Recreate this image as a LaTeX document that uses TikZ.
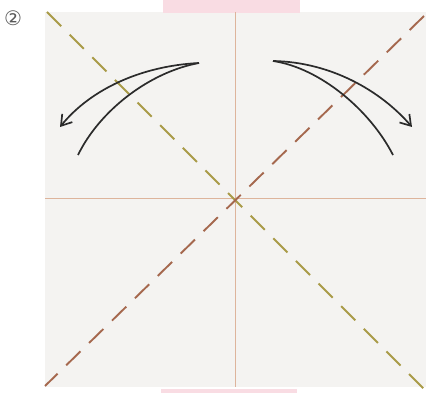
\documentclass[tikz,border=0pt]{standalone}
\usepackage{fontspec}
\newfontfamily\symfont{DejaVu Sans}
\usetikzlibrary{arrows.meta}
\definecolor{paper}{HTML}{F4F3F1}
\definecolor{pinkband}{HTML}{F9DCE3}
\definecolor{foldc}{HTML}{DDB49C}
\definecolor{olive}{HTML}{A99B48}
\definecolor{rust}{HTML}{A5684E}
\definecolor{arrowc}{HTML}{2B2B2B}
\tikzset{
  fold/.style={draw=foldc, line width=1pt},
  valley/.style={line width=1.9pt, dash pattern=on 20pt off 12pt},
  bent/.style={draw=arrowc, line width=1.7pt},
  tip/.style={-{Straight Barb[length=10pt,width=13pt,line width=1.7pt]}}
}
\begin{document}
\begin{tikzpicture}[x=1pt,y=-1pt]
\useasboundingbox (0,0) rectangle (426,393);
\fill[white] (0,0) rectangle (426,393);
% paper
\fill[paper] (45,12) rectangle (426,387);
\fill[pinkband] (163,0) rectangle (300,13);
\fill[pinkband] (161,389) rectangle (297,393);
% label
\node[font=\symfont\fontsize{20}{20}\selectfont, text=black!65] (num) at (13,18) {②};
% fold creases
\coordinate (c) at (235,199);
\coordinate (vt) at (235,12);
\coordinate (vb) at (235,387);
\coordinate (hl) at (45,199);
\coordinate (hr) at (426,199);
\draw[fold] (vt) -- (vb);
\draw[fold] (hl) -- (hr);
% diagonals
\coordinate (d1a) at (47,12);
\coordinate (d1b) at (424,389);
\coordinate (d2a) at (424,16);
\coordinate (d2b) at (45,386);
\draw[valley, olive] (d1a) -- (d1b);
\draw[valley, rust] (d2a) -- (d2b);
% left arrow
\coordinate (ls) at (199,63);
\coordinate (lt) at (60,127);
\coordinate (le) at (78,155);
\draw[bent, tip] (ls) .. controls (140,66) and (90,90) .. (lt);
\draw[bent] (ls) .. controls (150,72) and (100,110) .. (le);
% right arrow
\coordinate (rs) at (273,61);
\coordinate (rt) at (412,127);
\coordinate (re) at (393,155);
\draw[bent, tip] (rs) .. controls (330,62) and (380,90) .. (rt);
\draw[bent] (rs) .. controls (320,68) and (370,110) .. (re);
\end{tikzpicture}
\end{document}
